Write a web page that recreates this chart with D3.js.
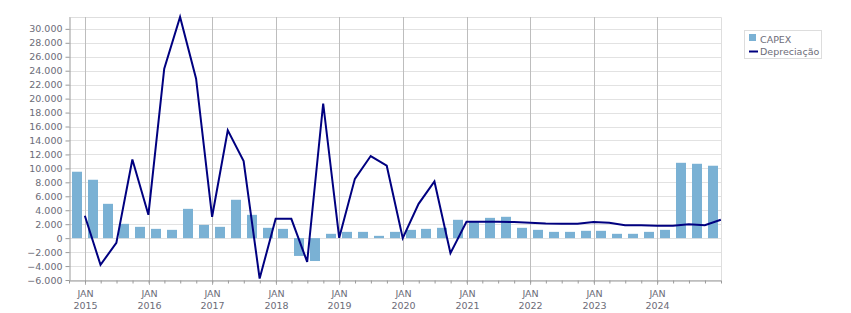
<!DOCTYPE html>
<html>
<head>
<meta charset="utf-8">
<script src="https://cdn.jsdelivr.net/npm/d3@7/dist/d3.min.js"></script>
<style>
body { margin: 0; background: #fff; }
text { font-family: "DejaVu Sans", Verdana, sans-serif; font-size: 9.5px; fill: #6c6c78; }
</style>
</head>
<body>
<div id="chart"></div>
<script>
var width = 851;
var height = 313;

// quarter end dates
var periods = ["2014-12-31","2015-03-31","2015-06-30","2015-09-30","2015-12-31",
	"2016-03-31","2016-06-30","2016-09-30","2016-12-31",
	"2017-03-31","2017-06-30","2017-09-30","2017-12-31",
	"2018-03-31","2018-06-30","2018-09-30","2018-12-31",
	"2019-03-31","2019-06-30","2019-09-30","2019-12-31",
	"2020-03-31","2020-06-30","2020-09-30","2020-12-31",
	"2021-03-31","2021-06-30","2021-09-30","2021-12-31",
	"2022-03-31","2022-06-30","2022-09-30","2022-12-31",
	"2023-03-31","2023-06-30","2023-09-30","2023-12-31",
	"2024-03-31","2024-06-30","2024-09-30","2024-12-31"];

var capex = [9520, 8370, 4920, 2050, 1620, 1330, 1190, 4200, 1900, 1620,
	5500, 3340, 1480, 1330, -2550, -3280, 620, 900, 900, 330,
	900, 1190, 1330, 1480, 2630, 2340, 2910, 3060, 1480, 1190,
	900, 900, 1050, 1050, 620, 620, 900, 1190, 10800, 10660, 10380];

var depreciacao = [3200, -3830, -670, 11280, 3340, 24300, 31700, 22860, 3060, 15450,
	11050, -5800, 2770, 2770, -3400, 19300, 50, 8500, 11770, 10380,
	0, 4920, 8120, -2150, 2340, 2340, 2340, 2300, 2200, 2100,
	2050, 2050, 2300, 2200, 1850, 1850, 1770, 1770, 2000, 1850, 2630];

var yTicks = [-6000, -4000, -2000, 0, 2000, 4000, 6000, 8000, 10000, 12000, 14000,
	16000, 18000, 20000, 22000, 24000, 26000, 28000, 30000];
var years = [2015, 2016, 2017, 2018, 2019, 2020, 2021, 2022, 2023, 2024];
var seriesNames = ["CAPEX", "Depreciação"];

var barColor = "#7ab1d4";
var lineColor = "#000080";

var parseDate = d3.utcParse("%Y-%m-%d");
var data = periods.map(function(p, i) {
	return {date: parseDate(p), capex: capex[i], dep: depreciacao[i]};
});

// plot box (window.top is reserved, so prefix)
var plotLeft = 69, plotRight = 721, plotTop = 17, plotBottom = 280;

var x = d3.scaleUtc()
	.domain([Date.UTC(2014, 9, 1), Date.UTC(2025, 0, 1)])
	.range([plotLeft, plotRight]);

var y = d3.scaleLinear()
	.domain([-6000, d3.max(depreciacao)])
	.range([plotBottom, plotTop]);

var locale = d3.formatLocale({decimal: ",", thousands: ".", grouping: [3], currency: ["", ""]});
var fmt = locale.format(",d");

var svg = d3.select("#chart").append("svg")
	.attr("width", width)
	.attr("height", height);

//horizontal grid
svg.append("g")
	.selectAll("line")
	.data(yTicks)
	.join("line")
	.attr("x1", plotLeft)
	.attr("x2", plotRight)
	.attr("y1", function(d) { return Math.round(y(d)) + 0.5; })
	.attr("y2", function(d) { return Math.round(y(d)) + 0.5; })
	.attr("stroke", "#e2e2e2");

//plot border top/right
svg.append("path")
	.attr("d", "M" + plotLeft + "," + (plotTop + 0.5) + "H" + (plotRight + 0.5) + "V" + plotBottom)
	.attr("fill", "none")
	.attr("stroke", "#dedede");

//vertical grid at january
var janDates = years.map(function(yr) { return Date.UTC(yr, 0, 1); });
svg.append("g")
	.selectAll("line")
	.data(janDates)
	.join("line")
	.attr("x1", function(d) { return Math.round(x(d)) + 0.5; })
	.attr("x2", function(d) { return Math.round(x(d)) + 0.5; })
	.attr("y1", plotTop)
	.attr("y2", plotBottom + 5)
	.attr("stroke", "#bdbdbd");

//bars
svg.append("g")
	.selectAll("rect")
	.data(data)
	.join("rect")
	.attr("x", function(d) { return Math.round(x(d.date)) - 13; })
	.attr("width", 10)
	.attr("y", function(d) { return y(Math.max(0, d.capex)); })
	.attr("height", function(d) { return Math.abs(y(d.capex) - y(0)); })
	.attr("fill", barColor);

//line
var line = d3.line()
	.x(function(d) { return x(d.date); })
	.y(function(d) { return y(d.dep); });

svg.append("path")
	.datum(data)
	.attr("d", line)
	.attr("fill", "none")
	.attr("stroke", lineColor)
	.attr("stroke-width", 2)
	.attr("stroke-linejoin", "miter");

//y axis
var yAxis = svg.append("g")
	.attr("transform", "translate(" + (plotLeft + 0.5) + ",0)")
	.call(d3.axisLeft(y).tickValues(yTicks).tickSize(4).tickSizeOuter(0).tickPadding(3).tickFormat(fmt));
yAxis.select(".domain").attr("stroke", "#9a9a9a");
yAxis.selectAll(".tick line").attr("stroke", "#9a9a9a");
yAxis.selectAll("text").attr("fill", null);
yAxis.attr("font-size", null).attr("font-family", null);

//x axis with quarter ticks
var xAxis = svg.append("g")
	.attr("transform", "translate(0," + (plotBottom + 0.5) + ")")
	.call(d3.axisBottom(x).ticks(d3.utcMonth.every(3)).tickSize(3).tickSizeOuter(0).tickFormat(""));
xAxis.select(".domain").attr("stroke", "#9a9a9a");
xAxis.selectAll(".tick line").attr("stroke", "#9a9a9a");

var xLabels = svg.append("g")
	.selectAll("g")
	.data(years)
	.join("g")
	.attr("transform", function(d) { return "translate(" + (Math.round(x(Date.UTC(d, 0, 1))) + 0.5) + ",0)"; });
xLabels.append("text")
	.attr("y", 297)
	.attr("text-anchor", "middle")
	.text("JAN");
xLabels.append("text")
	.attr("y", 309)
	.attr("text-anchor", "middle")
	.text(function(d) { return d; });

//legend
var legend = svg.append("g")
	.attr("id", "legend");
legend.append("rect")
	.attr("x", 744.5)
	.attr("y", 30.5)
	.attr("width", 77)
	.attr("height", 28)
	.attr("fill", "#fff")
	.attr("stroke", "#dddddd");
legend.append("rect")
	.attr("x", 749)
	.attr("y", 34)
	.attr("width", 7)
	.attr("height", 7)
	.attr("fill", barColor);
legend.append("line")
	.attr("x1", 749)
	.attr("x2", 758)
	.attr("y1", 51.5)
	.attr("y2", 51.5)
	.attr("stroke", lineColor)
	.attr("stroke-width", 2);
legend.append("text")
	.attr("x", 760)
	.attr("y", 43)
	.text(seriesNames[0]);
legend.append("text")
	.attr("x", 760)
	.attr("y", 55)
	.text(seriesNames[1]);
</script>
</body>
</html>
